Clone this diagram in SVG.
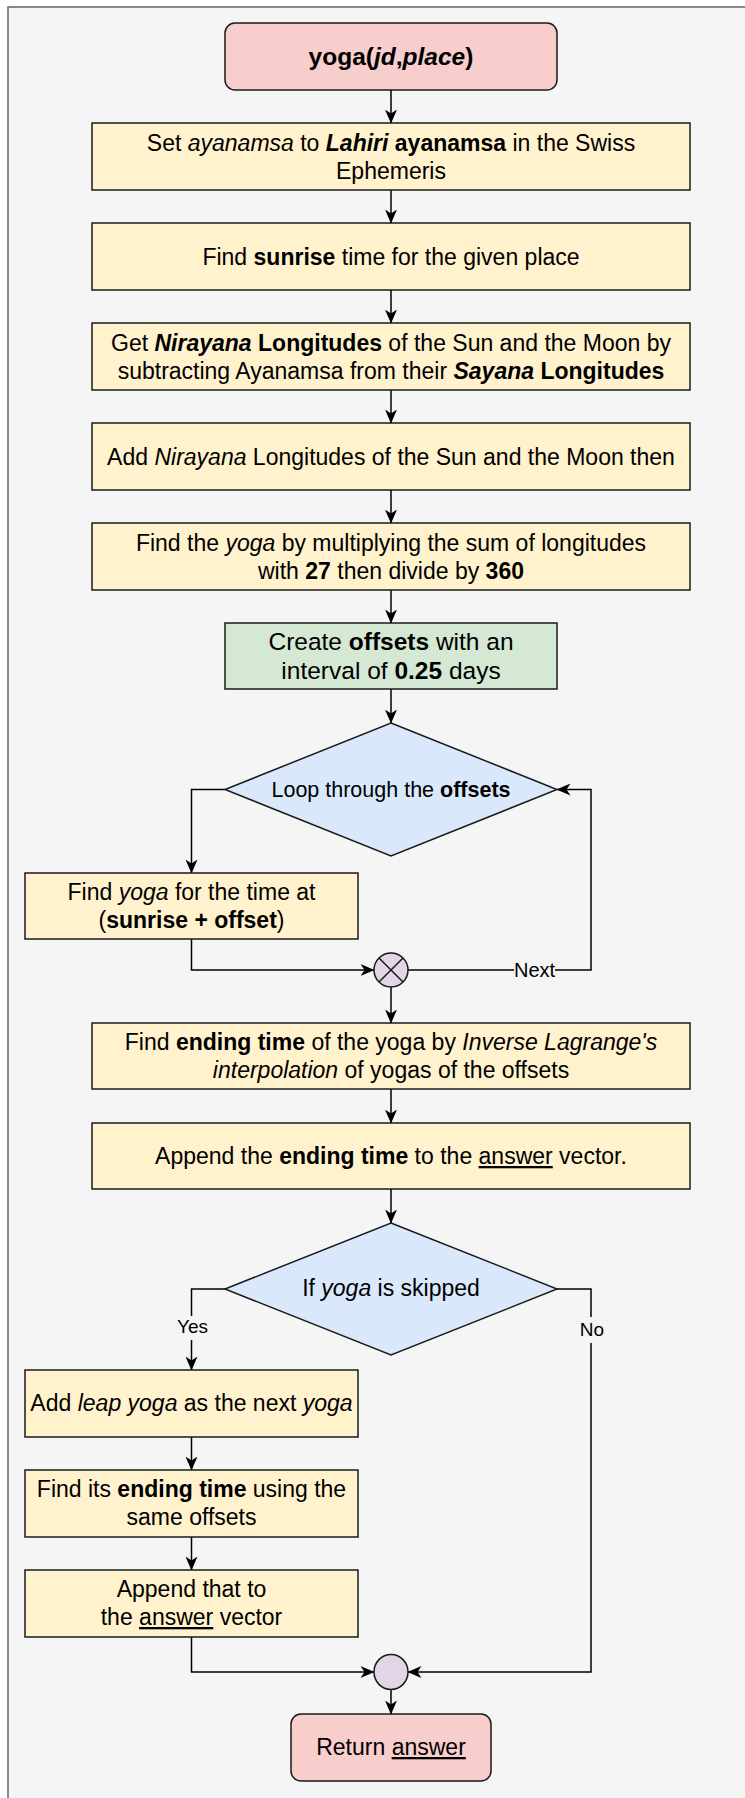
<svg xmlns="http://www.w3.org/2000/svg" width="745" height="1798" viewBox="0 0 745 1798">
<defs>
<marker id="arr" markerUnits="userSpaceOnUse" markerWidth="14" markerHeight="12" viewBox="0 0 14 12" refX="13.5" refY="6" orient="auto">
<path d="M0,0 L14,6 L0,12 L4,6 Z" fill="#000"/>
</marker>
</defs>
<style>
text{font-family:"Liberation Sans",Arial,sans-serif;fill:#000;}
.t{font-size:23px;text-anchor:middle;}
.b{font-weight:bold;}
.i{font-style:italic;}
.u{text-decoration:underline;}
.box{fill:#fff2cc;stroke:#1a1a1a;stroke-width:1.5;}
.pink{fill:#f8cecc;stroke:#1a1a1a;stroke-width:1.5;}
.green{fill:#d5e8d4;stroke:#1a1a1a;stroke-width:1.5;}
.dia{fill:#dae8fc;stroke:#1a1a1a;stroke-width:1.5;}
.circ{fill:#e1d5e7;stroke:#1a1a1a;stroke-width:1.5;}
.e{fill:none;stroke:#000;stroke-width:1.5;}
.ea{fill:none;stroke:#000;stroke-width:1.5;marker-end:url(#arr);}
.lbl{font-size:19px;text-anchor:middle;}
.lbg{fill:#f5f5f5;stroke:none;}
</style>
<rect x="8" y="7" width="760" height="1820" fill="#f5f5f5" stroke="#666666" stroke-width="1.5"/>

<g id="connectors">
<path class="ea" d="M391,90 L391,123"/>
<path class="ea" d="M391,190 L391,223"/>
<path class="ea" d="M391,290 L391,323"/>
<path class="ea" d="M391,390 L391,423"/>
<path class="ea" d="M391,490 L391,523"/>
<path class="ea" d="M391,590 L391,623"/>
<path class="ea" d="M391,689 L391,723"/>
<path class="ea" d="M225,789.5 L191.5,789.5 L191.5,873"/>
<path class="ea" d="M191.5,939 L191.5,970 L374,970"/>
<path class="ea" d="M408,970 L591,970 L591,789.5 L557,789.5"/>
<rect class="lbg" x="514" y="960" width="41" height="22"/>
<text class="lbl" x="534.5" y="977" style="font-size:20px">Next</text>
<path class="ea" d="M391,987 L391,1023"/>
<path class="ea" d="M391,1089 L391,1123"/>
<path class="ea" d="M391,1189 L391,1223"/>
<path class="ea" d="M225,1289 L191.5,1289 L191.5,1370"/>
<rect class="lbg" x="175" y="1316" width="34" height="24"/>
<text class="lbl" x="192.5" y="1333">Yes</text>
<path class="ea" d="M557,1289 L591,1289 L591,1672 L408,1672"/>
<rect class="lbg" x="579" y="1317" width="26" height="26"/>
<text class="lbl" x="592" y="1336">No</text>
<path class="ea" d="M191.5,1437 L191.5,1470"/>
<path class="ea" d="M191.5,1537 L191.5,1570"/>
<path class="ea" d="M191.5,1637 L191.5,1672 L374,1672"/>
<path class="ea" d="M391,1689.5 L391,1714"/>
</g>

<g id="start">
<rect class="pink" x="225" y="23" width="332" height="67" rx="10"/>
<text class="t b" x="391" y="65" style="font-size:24.5px">yoga(<tspan class="i">jd</tspan>,<tspan class="i">place</tspan>)</text>
</g>

<g id="n_ayanamsa">
<rect class="box" x="92" y="123" width="598" height="67"/>
<text class="t" x="391" y="151">Set <tspan class="i">ayanamsa</tspan> to <tspan class="b i">Lahiri</tspan> <tspan class="b">ayanamsa</tspan> in the Swiss</text>
<text class="t" x="391" y="179">Ephemeris</text>
</g>

<g id="n_sunrise">
<rect class="box" x="92" y="223" width="598" height="67"/>
<text class="t" x="391" y="264.5">Find <tspan class="b">sunrise</tspan> time for the given place</text>
</g>

<g id="n_nirayana">
<rect class="box" x="92" y="323" width="598" height="67"/>
<text class="t" x="391" y="351">Get <tspan class="b i">Nirayana</tspan> <tspan class="b">Longitudes</tspan> of the Sun and the Moon by</text>
<text class="t" x="391" y="379">subtracting Ayanamsa from their <tspan class="b i">Sayana</tspan> <tspan class="b">Longitudes</tspan></text>
</g>

<g id="n_add">
<rect class="box" x="92" y="423" width="598" height="67"/>
<text class="t" x="391" y="464.5">Add <tspan class="i">Nirayana</tspan> Longitudes of the Sun and the Moon then</text>
</g>

<g id="n_findyoga">
<rect class="box" x="92" y="523" width="598" height="67"/>
<text class="t" x="391" y="551">Find the <tspan class="i">yoga</tspan> by multiplying the sum of longitudes</text>
<text class="t" x="391" y="579">with <tspan class="b">27</tspan> then divide by <tspan class="b">360</tspan></text>
</g>

<g id="n_offsets">
<rect class="green" x="225" y="623" width="332" height="66"/>
<text class="t" x="391" y="650" style="font-size:24.5px">Create <tspan class="b">offsets</tspan> with an</text>
<text class="t" x="391" y="679" style="font-size:24.5px">interval of <tspan class="b">0.25</tspan> days</text>
</g>

<g id="n_loop">
<path class="dia" d="M391,723 L557,789.5 L391,856 L225,789.5 Z"/>
<text class="t" x="391" y="797" style="font-size:21.5px">Loop through the <tspan class="b">offsets</tspan></text>
</g>

<g id="n_yogaoffset">
<rect class="box" x="25" y="873" width="333" height="66"/>
<text class="t" x="191.5" y="900">Find <tspan class="i">yoga</tspan> for the time at</text>
<text class="t" x="191.5" y="928">(<tspan class="b">sunrise + offset</tspan>)</text>
</g>

<g id="n_join1">
<circle class="circ" cx="391" cy="970" r="17"/>
<path d="M379,958 L403,982 M403,958 L379,982" stroke="#1a1a1a" stroke-width="1.5" fill="none"/>
</g>

<g id="n_ending">
<rect class="box" x="92" y="1023" width="598" height="66"/>
<text class="t" x="391" y="1050">Find <tspan class="b">ending time</tspan> of the yoga by <tspan class="i">Inverse Lagrange's</tspan></text>
<text class="t" x="391" y="1078"><tspan class="i">interpolation</tspan> of yogas of the offsets</text>
</g>

<g id="n_append">
<rect class="box" x="92" y="1123" width="598" height="66"/>
<text class="t" x="391" y="1164">Append the <tspan class="b">ending time</tspan> to the <tspan class="u">answer</tspan> vector.</text>
</g>

<g id="n_skipped">
<path class="dia" d="M391,1223 L557,1289 L391,1355 L225,1289 Z"/>
<text class="t" x="391" y="1296">If <tspan class="i">yoga</tspan> is skipped</text>
</g>

<g id="n_leap">
<rect class="box" x="25" y="1370" width="333" height="67"/>
<text class="t" x="191.5" y="1411">Add <tspan class="i">leap yoga</tspan> as the next <tspan class="i">yoga</tspan></text>
</g>

<g id="n_leapend">
<rect class="box" x="25" y="1470" width="333" height="67"/>
<text class="t" x="191.5" y="1497">Find its <tspan class="b">ending time</tspan> using the</text>
<text class="t" x="191.5" y="1525">same offsets</text>
</g>

<g id="n_appendthat">
<rect class="box" x="25" y="1570" width="333" height="67"/>
<text class="t" x="191.5" y="1597">Append that to</text>
<text class="t" x="191.5" y="1625">the <tspan class="u">answer</tspan> vector</text>
</g>

<g id="n_join2">
<ellipse class="circ" cx="391" cy="1672" rx="17" ry="17.5"/>
</g>

<g id="end">
<rect class="pink" x="291" y="1714" width="200" height="67" rx="10"/>
<text class="t" x="391" y="1755">Return <tspan class="u">answer</tspan></text>
</g>
</svg>
